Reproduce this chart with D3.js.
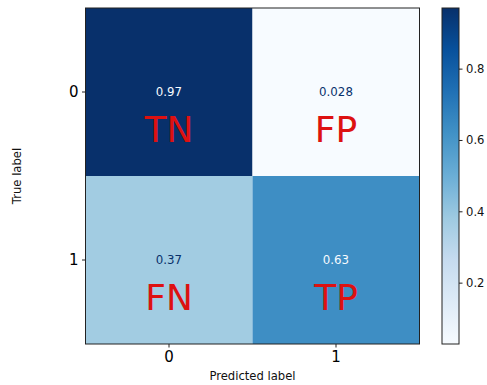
<!DOCTYPE html>
<html>
<head>
<meta charset="utf-8">
<script src="https://cdn.jsdelivr.net/npm/d3@7"></script>
<style>
  html, body { margin: 0; padding: 0; background: #fff; }
  svg { display: block; font-family: "DejaVu Sans", sans-serif; }
</style>
</head>
<body>
<svg id="chart" width="487" height="385"></svg>
<script>
// Normalized confusion matrix (rows: true label, columns: predicted label)
const classes = ["0", "1"];
const rowTrue0 = [0.97, 0.028];
const rowTrue1 = [0.37, 0.63];
const cellNames = [["TN", "FP"], ["FN", "TP"]];
const colorbarTicks = [0.2, 0.4, 0.6, 0.8];

const matrix = [rowTrue0, rowTrue1];

// matplotlib "Blues" colormap stops (linear segments)
const bluesStops = ["#f7fbff", "#deebf7", "#c6dbef", "#9ecae1", "#6baed6",
                    "#4292c6", "#2171b5", "#08519c", "#08306b"];

const svg = d3.select("#chart");
const plot = { left: 85.5, right: 419.5, top: 8, bottom: 344 };
const cbar = { left: 442, right: 459, top: 8, bottom: 344 };

const flat = matrix.flat();
const vmin = d3.min(flat), vmax = d3.max(flat);

const color = d3.scaleLinear()
  .domain(bluesStops.map((_, i) => vmin + (vmax - vmin) * i / (bluesStops.length - 1)))
  .range(bluesStops)
  .interpolate(d3.interpolateRgb)
  .clamp(true);

const x = d3.scaleBand().domain(classes).range([plot.left, plot.right]);
const y = d3.scaleBand().domain(classes).range([plot.top, plot.bottom]);

const cells = [];
matrix.forEach((row, i) => row.forEach((v, j) => cells.push({ t: classes[i], p: classes[j], v, name: cellNames[i][j] })));

// Heatmap cells
svg.append("g").selectAll("rect").data(cells).join("rect")
  .attr("x", d => x(d.p))
  .attr("y", d => y(d.t))
  .attr("width", x.bandwidth())
  .attr("height", y.bandwidth())
  .attr("fill", d => color(d.v));

// Value text: light on dark cells, dark on light cells
const mid = (vmin + vmax) / 2;
const fmt = d3.format(".2g");
svg.append("g").selectAll("text").data(cells).join("text")
  .attr("x", d => x(d.p) + x.bandwidth() / 2)
  .attr("y", d => y(d.t) + y.bandwidth() / 2)
  .attr("text-anchor", "middle")
  .attr("dominant-baseline", "central")
  .attr("font-size", 11.8)
  .attr("fill", d => d.v > mid ? bluesStops[0] : bluesStops[8])
  .text(d => fmt(d.v));

// Outcome names
svg.append("g").selectAll("text").data(cells).join("text")
  .attr("x", d => x(d.p) + x.bandwidth() / 2)
  .attr("y", d => y(d.t) + y.bandwidth() / 2 + 37)
  .attr("text-anchor", "middle")
  .attr("dominant-baseline", "central")
  .attr("font-size", 36)
  .attr("fill", "#dd1111")
  .text(d => d.name);

// Frame
svg.append("rect")
  .attr("x", plot.left).attr("y", plot.top)
  .attr("width", plot.right - plot.left).attr("height", plot.bottom - plot.top)
  .attr("fill", "none").attr("stroke", "#222").attr("stroke-width", 1);

// Axes
const xAxis = svg.append("g")
  .attr("transform", `translate(0,${plot.bottom})`)
  .call(d3.axisBottom(x).tickSize(3.5).tickPadding(3.5));
const yAxis = svg.append("g")
  .attr("transform", `translate(${plot.left},0)`)
  .call(d3.axisLeft(y).tickSize(3.5).tickPadding(3.5));
[xAxis, yAxis].forEach(g => {
  g.select(".domain").remove();
  g.selectAll(".tick line").attr("stroke", "#222");
  g.selectAll(".tick text").attr("font-size", 15).attr("fill", "#000")
    .attr("font-family", "DejaVu Sans, sans-serif");
});

svg.append("text")
  .attr("x", (plot.left + plot.right) / 2).attr("y", 376)
  .attr("text-anchor", "middle").attr("dominant-baseline", "central")
  .attr("font-size", 11.6).attr("fill", "#111")
  .text("Predicted label");

svg.append("text")
  .attr("transform", `translate(17,${(plot.top + plot.bottom) / 2}) rotate(-90)`)
  .attr("text-anchor", "middle").attr("dominant-baseline", "central")
  .attr("font-size", 11.6).attr("fill", "#111")
  .text("True label");

// Colorbar
const cy = d3.scaleLinear().domain([vmin, vmax]).range([cbar.bottom, cbar.top]);
const defs = svg.append("defs");
const grad = defs.append("linearGradient").attr("id", "cbGrad")
  .attr("x1", 0).attr("y1", 1).attr("x2", 0).attr("y2", 0);
bluesStops.forEach((c, i) => grad.append("stop")
  .attr("offset", i / (bluesStops.length - 1)).attr("stop-color", c));

svg.append("rect")
  .attr("x", cbar.left).attr("y", cbar.top)
  .attr("width", cbar.right - cbar.left).attr("height", cbar.bottom - cbar.top)
  .attr("fill", "url(#cbGrad)")
  .attr("stroke", "#222").attr("stroke-width", 1);

const cAxis = svg.append("g")
  .attr("transform", `translate(${cbar.right},0)`)
  .call(d3.axisRight(cy).tickValues(colorbarTicks).tickFormat(d3.format(".1f")).tickSize(3.5).tickPadding(3.5));
cAxis.select(".domain").remove();
cAxis.selectAll(".tick line").attr("stroke", "#222");
cAxis.selectAll(".tick text").attr("font-size", 11.6).attr("fill", "#111")
  .attr("font-family", "DejaVu Sans, sans-serif");
</script>
</body>
</html>
